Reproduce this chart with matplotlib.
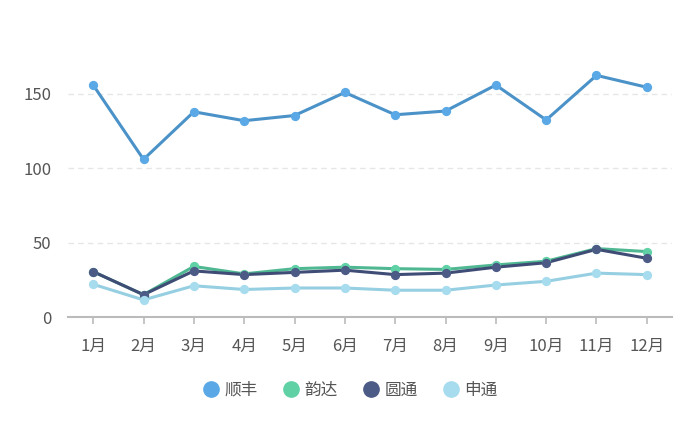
import matplotlib.pyplot as plt
import numpy as np

plt.rcParams["font.family"] = ["Noto Sans CJK SC", "DejaVu Sans"]

months = ["1月", "2月", "3月", "4月", "5月", "6月",
          "7月", "8月", "9月", "10月", "11月", "12月"]
shunfeng = [156, 106, 138, 132, 135.5, 151, 136, 138.5, 156, 132.5, 162.5, 154.5]
yunda = [30.5, 15, 34, 29, 32.5, 33.5, 32.5, 32, 35, 37.5, 46, 44]
yuantong = [30.5, 15, 31, 28.5, 30, 31.5, 28.5, 29.5, 33.5, 36.5, 45.5, 39.5]
shentong = [22, 11.5, 21, 18.5, 19.5, 19.5, 18, 18, 21.5, 24, 29.5, 28.5]
yticks = [0, 50, 100, 150]

series = [
    ("顺丰", shunfeng, "#5aa9e6", "#4a92c8"),
    ("韵达", yunda, "#5fd1a5", "#4fb892"),
    ("圆通", yuantong, "#4c5a86", "#3f4c75"),
    ("申通", shentong, "#a6dcee", "#96cfe2"),
]

fig = plt.figure(figsize=(7, 4.45), dpi=100)
ymax = 175
ax = fig.add_axes([68 / 700, 128 / 445, 604 / 700, ymax * 1.487 / 445])
x = np.arange(len(months))

handles = []
for name, vals, mc, lc in series:
    ax.plot(x, vals, color=lc, lw=2.2, zorder=3)
    ax.scatter(x, vals, s=32, color=mc, edgecolor=mc, zorder=4)
    handles.append(plt.Line2D([], [], ls="", marker="o", ms=11, color=mc, label=name))

ax.set_xlim(-0.5, len(months) - 0.5)
ax.set_ylim(0, ymax)
ax.set_xticks(x)
ax.set_xticklabels(months, fontsize=12, color="#555555")
ax.set_yticks(yticks)
ax.set_yticklabels([str(v) for v in yticks], fontsize=12, color="#555555")
ax.tick_params(axis="y", length=0, pad=12)
ax.tick_params(axis="x", length=5, color="#bbbbbb", width=1.2, pad=10)
for v in yticks[1:]:
    ax.axhline(v, color="#e6e6e6", lw=1, ls=(0, (4, 3)), zorder=1)
for s in ["top", "right", "left"]:
    ax.spines[s].set_visible(False)
ax.spines["bottom"].set_color("#bbbbbb")
ax.spines["bottom"].set_linewidth(1.5)

fig.legend(handles=handles, loc="center", bbox_to_anchor=(0.5, 1 - 390 / 445),
           ncol=4, frameon=False, fontsize=12, labelcolor="#555555",
           handlelength=1.0, handletextpad=0.3, columnspacing=1.5)

fig.savefig("out.png", dpi=100)
